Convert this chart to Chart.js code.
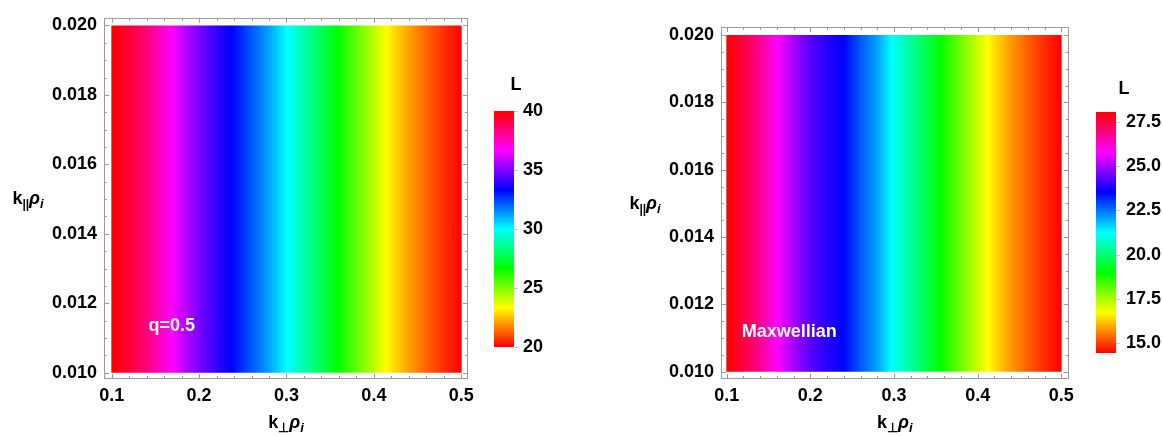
<!DOCTYPE html>
<html>
<head>
<meta charset="utf-8">
<script src="https://cdn.jsdelivr.net/npm/chart.js"></script>
<style>
  html, body { margin: 0; padding: 0; background: #fff; }
  body { width: 1163px; height: 436px; position: relative; overflow: hidden; }
  .box { position: absolute; }
</style>
</head>
<body>
<div class="box" style="left:0;top:0;width:480px;height:436px"><canvas id="mapQ"></canvas></div>
<div class="box" style="left:480px;top:60px;width:100px;height:310px"><canvas id="barQ"></canvas></div>
<div class="box" style="left:600px;top:0;width:480px;height:436px"><canvas id="mapM"></canvas></div>
<div class="box" style="left:1080px;top:60px;width:83px;height:320px"><canvas id="barM"></canvas></div>
<script>
// k_perp rho_i sample positions and L
const kPerp = [0.10, 0.12, 0.14, 0.16, 0.18, 0.20, 0.22, 0.24, 0.26, 0.28, 0.30,
               0.32, 0.34, 0.36, 0.38, 0.40, 0.42, 0.44, 0.46, 0.48, 0.50];
const lossQ = [40.0, 39.3, 38.4, 37.2, 36.0, 34.9, 34.0, 33.2, 32.2, 31.2, 30.0,
               28.9, 27.8, 26.6, 25.4, 24.2, 23.0, 22.1, 21.3, 20.6, 20.0];
const lossMax = [28.07, 27.52, 26.77, 25.82, 25.00, 24.32, 23.84, 23.50, 22.75, 22.07, 21.11,
                 20.36, 19.61, 18.79, 17.98, 17.16, 16.41, 15.79, 15.28, 14.81, 14.43];
const kParRange = [0.010, 0.020];

const xTicks = [0.1, 0.2, 0.3, 0.4, 0.5];
const yTicks = [0.010, 0.012, 0.014, 0.016, 0.018, 0.020];
const legendTicksQ = [20, 25, 30, 35, 40];
const legendTicksM = [15.0, 17.5, 20.0, 22.5, 25.0, 27.5];
const legendRangeQ = [20, 40];
const legendRangeM = [14.43, 28.07];

const FONT = "'Liberation Sans', Arial, sans-serif";
const FRAME = '#9c9c9c';
const TICK_SIZE = 18;

// Mathematica Hue[h]: full saturation / brightness
function hueColor(h) {
    h = Math.min(Math.max(h, 0), 1) * 6;
    const i = Math.floor(h) % 6;
    const f = h - Math.floor(h);
    let r, g, b;
    switch (i) {
        case 0: r = 1; g = f; b = 0; break;
        case 1: r = 1 - f; g = 1; b = 0; break;
        case 2: r = 0; g = 1; b = f; break;
        case 3: r = 0; g = 1 - f; b = 1; break;
        case 4: r = f; g = 0; b = 1; break;
        default: r = 1; g = 0; b = 1 - f;
    }
    return `rgb(${Math.round(r * 255)},${Math.round(g * 255)},${Math.round(b * 255)})`;
}

function hueGradient(ctx, x0, y0, x1, y1, h0, h1) {
    if (![x0, y0, x1, y1].every(Number.isFinite) || (x0 === x1 && y0 === y1)) {
        return hueColor((h0 + h1) / 2);
    }
    const g = ctx.createLinearGradient(x0, y0, x1, y1);
    g.addColorStop(0, hueColor(h0));
    const lo = Math.min(h0, h1), hi = Math.max(h0, h1);
    for (let m = 1; m < 6; m++) {
        const h = m / 6;
        if (h > lo && h < hi) g.addColorStop((h - h0) / (h1 - h0), hueColor(h));
    }
    g.addColorStop(1, hueColor(h1));
    return g;
}

// text with subscripts, centred on (cx, cy)
function drawRich(ctx, parts, cx, cy) {
    ctx.save();
    ctx.textBaseline = 'alphabetic';
    ctx.textAlign = 'left';
    let w = 0;
    parts.forEach(p => {
        ctx.font = `${p.italic ? 'italic ' : ''}bold ${p.size}px ${FONT}`;
        p.w = ctx.measureText(p.t).width;
        w += p.w;
    });
    let x = cx - w / 2;
    const base = cy + 6;
    parts.forEach(p => {
        ctx.font = `${p.italic ? 'italic ' : ''}bold ${p.size}px ${FONT}`;
        ctx.fillStyle = '#000';
        ctx.fillText(p.t, x, base + (p.dy || 0));
        x += p.w;
    });
    ctx.restore();
}

const titleX = [
    { t: 'k', size: 18 }, { t: '\u22A5', size: 13, dy: 4 },
    { t: '\u03C1', size: 18, italic: true }, { t: 'i', size: 13, italic: true, dy: 4 }
];
const titleY = [
    { t: 'k', size: 18 }, { t: '||', size: 12, dy: 4 },
    { t: '\u03C1', size: 18, italic: true }, { t: 'i', size: 13, italic: true, dy: 4 }
];

const framePlugin = {
    id: 'frame',
    afterDraw(chart) {
        const { ctx, chartArea: a, scales: { x, y } } = chart;
        ctx.save();
        ctx.strokeStyle = FRAME;
        ctx.lineWidth = 1;
        ctx.strokeRect(Math.round(a.left) + 0.5, Math.round(a.top) + 0.5,
                       Math.round(a.right - a.left) - 1, Math.round(a.bottom - a.top) - 1);
        const tick = (v, len, axis) => {
            ctx.beginPath();
            if (axis === 'x') {
                const px = Math.round(x.getPixelForValue(v)) + 0.5;
                ctx.moveTo(px, a.top); ctx.lineTo(px, a.top + len);
                ctx.moveTo(px, a.bottom); ctx.lineTo(px, a.bottom - len);
            } else {
                const py = Math.round(y.getPixelForValue(v)) + 0.5;
                ctx.moveTo(a.left, py); ctx.lineTo(a.left + len, py);
                ctx.moveTo(a.right, py); ctx.lineTo(a.right - len, py);
            }
            ctx.stroke();
        };
        xTicks.forEach(v => tick(v, 5, 'x'));
        yTicks.forEach(v => tick(v, 5, 'y'));
        for (let v = 0.12; v < 0.5; v += 0.02) {
            if (Math.abs(v * 10 - Math.round(v * 10)) > 1e-6) tick(v, 3, 'x');
        }
        for (let v = 0.0105; v < 0.02; v += 0.0005) {
            if (Math.abs(v * 500 - Math.round(v * 500)) > 1e-6) tick(v, 3, 'y');
        }
        ctx.restore();

        const o = chart.options.plugins.frame;
        drawRich(ctx, titleX, (a.left + a.right) / 2, a.bottom + 43);
        drawRich(ctx, titleY, a.left - 76, (a.top + a.bottom) / 2);

        ctx.save();
        ctx.fillStyle = '#fff';
        ctx.font = `bold ${o.noteSize}px ${FONT}`;
        ctx.textAlign = 'left';
        ctx.textBaseline = 'middle';
        ctx.fillText(o.note, x.getPixelForValue(o.noteAt[0]), y.getPixelForValue(o.noteAt[1]));
        ctx.restore();
    }
};

function makeMap(id, loss, legendRange, view) {
    const cols = [];
    for (let i = 0; i < kPerp.length - 1; i++) {
        cols.push({ x: (kPerp[i] + kPerp[i + 1]) / 2, y: kParRange });
    }
    const frac = v => (v - legendRange[0]) / (legendRange[1] - legendRange[0]);
    const tickFont = { family: FONT, size: TICK_SIZE, weight: 'bold' };

    return new Chart(document.getElementById(id), {
        type: 'bar',
        data: {
            datasets: [{
                data: cols,
                borderWidth: 0,
                barPercentage: 1.04,
                categoryPercentage: 1,
                backgroundColor: c => {
                    if (c.type !== 'data') return '#fff';
                    const xs = c.chart.scales.x;
                    const i = c.dataIndex;
                    if (!xs) return hueColor(frac(loss[i]));
                    return hueGradient(c.chart.ctx,
                        xs.getPixelForValue(kPerp[i]), 0, xs.getPixelForValue(kPerp[i + 1]), 0,
                        frac(loss[i]), frac(loss[i + 1]));
                }
            }]
        },
        options: {
            responsive: true,
            maintainAspectRatio: false,
            animation: false,
            layout: { padding: { left: 0, top: view.top, right: view.right, bottom: 0 } },
            plugins: {
                legend: { display: false },
                tooltip: { enabled: false },
                frame: { note: view.note, noteAt: view.noteAt, noteSize: view.noteSize }
            },
            scales: {
                x: {
                    type: 'linear',
                    offset: false,
                    min: view.xMin,
                    max: view.xMax,
                    grid: { display: false, drawTicks: false },
                    border: { display: false },
                    afterBuildTicks: s => { s.ticks = xTicks.map(v => ({ value: v })); },
                    afterFit: s => { s.height = view.xAxisH; },
                    ticks: {
                        color: '#000', font: tickFont, padding: 6,
                        maxRotation: 0, autoSkip: false,
                        callback: v => v.toFixed(1)
                    }
                },
                y: {
                    type: 'linear',
                    beginAtZero: false,
                    min: view.yMin,
                    max: view.yMax,
                    grid: { display: false, drawTicks: false },
                    border: { display: false },
                    afterBuildTicks: s => { s.ticks = yTicks.map(v => ({ value: v })); },
                    afterFit: s => { s.width = view.yAxisW; },
                    ticks: {
                        color: '#000', font: tickFont, padding: 7,
                        autoSkip: false,
                        callback: v => v.toFixed(3)
                    }
                }
            }
        },
        plugins: [framePlugin]
    });
}

const legendPlugin = {
    id: 'legendBar',
    afterDraw(chart) {
        const { ctx, chartArea: a, scales: { y } } = chart;
        const o = chart.options.plugins.legendBar;
        ctx.save();
        ctx.strokeStyle = '#c8c8c8';
        ctx.lineWidth = 1;
        o.ticks.forEach(v => {
            const py = Math.round(y.getPixelForValue(v)) + 0.5;
            ctx.beginPath();
            ctx.moveTo(a.right, py);
            ctx.lineTo(a.right + 4, py);
            ctx.stroke();
        });
        ctx.fillStyle = '#000';
        ctx.font = `bold 18px ${FONT}`;
        ctx.textAlign = 'center';
        ctx.textBaseline = 'middle';
        ctx.fillText('L', a.right + o.titleDx, a.top - o.titleDy);
        ctx.restore();
    }
};

function makeLegend(id, range, ticks, digits, view) {
    return new Chart(document.getElementById(id), {
        type: 'bar',
        data: {
            labels: ['L'],
            datasets: [{
                data: [range],
                borderWidth: 0,
                barPercentage: 1,
                categoryPercentage: 1,
                backgroundColor: c => {
                    if (c.type !== 'data') return '#fff';
                    const ys = c.chart.scales.y;
                    if (!ys) return hueColor(0.5);
                    return hueGradient(c.chart.ctx,
                        0, ys.getPixelForValue(range[0]), 0, ys.getPixelForValue(range[1]), 0, 1);
                }
            }]
        },
        options: {
            responsive: true,
            maintainAspectRatio: false,
            animation: false,
            layout: { padding: { left: view.left, top: view.top, right: 0, bottom: view.bottom } },
            plugins: {
                legend: { display: false },
                tooltip: { enabled: false },
                legendBar: { ticks: ticks, titleDx: view.titleDx, titleDy: view.titleDy }
            },
            scales: {
                x: { display: false },
                y: {
                    position: 'right',
                    min: range[0],
                    max: range[1],
                    grid: { display: false, drawTicks: false },
                    border: { display: false },
                    afterBuildTicks: s => { s.ticks = ticks.map(v => ({ value: v })); },
                    afterFit: s => { s.width = view.axisW; },
                    ticks: {
                        color: '#000',
                        font: { family: FONT, size: TICK_SIZE, weight: 'bold' },
                        padding: view.pad,
                        autoSkip: false,
                        callback: v => v.toFixed(digits)
                    }
                }
            }
        },
        plugins: [legendPlugin]
    });
}

makeMap('mapQ', lossQ, legendRangeQ, {
    top: 13, right: 11, yAxisW: 104, xAxisH: 57,
    xMin: 0.091215, xMax: 0.507644, yMin: 0.009821, yMax: 0.0202188,
    note: 'q=0.5', noteAt: [0.142, 0.01134], noteSize: 18
});
makeMap('mapM', lossMax, legendRangeM, {
    top: 27, right: 9, yAxisW: 121, xAxisH: 57,
    xMin: 0.09323, xMax: 0.50879, yMin: 0.009783, yMax: 0.020238,
    note: 'Maxwellian', noteAt: [0.118, 0.01118], noteSize: 18
});
makeLegend('barQ', legendRangeQ, legendTicksQ, 0, {
    left: 14, top: 51, bottom: 23, axisW: 66, pad: 9, titleDx: 2, titleDy: 26
});
makeLegend('barM', legendRangeM, legendTicksM, 1, {
    left: 16, top: 52, bottom: 27, axisW: 47, pad: 10, titleDx: 8, titleDy: 23
});
</script>
</body>
</html>
